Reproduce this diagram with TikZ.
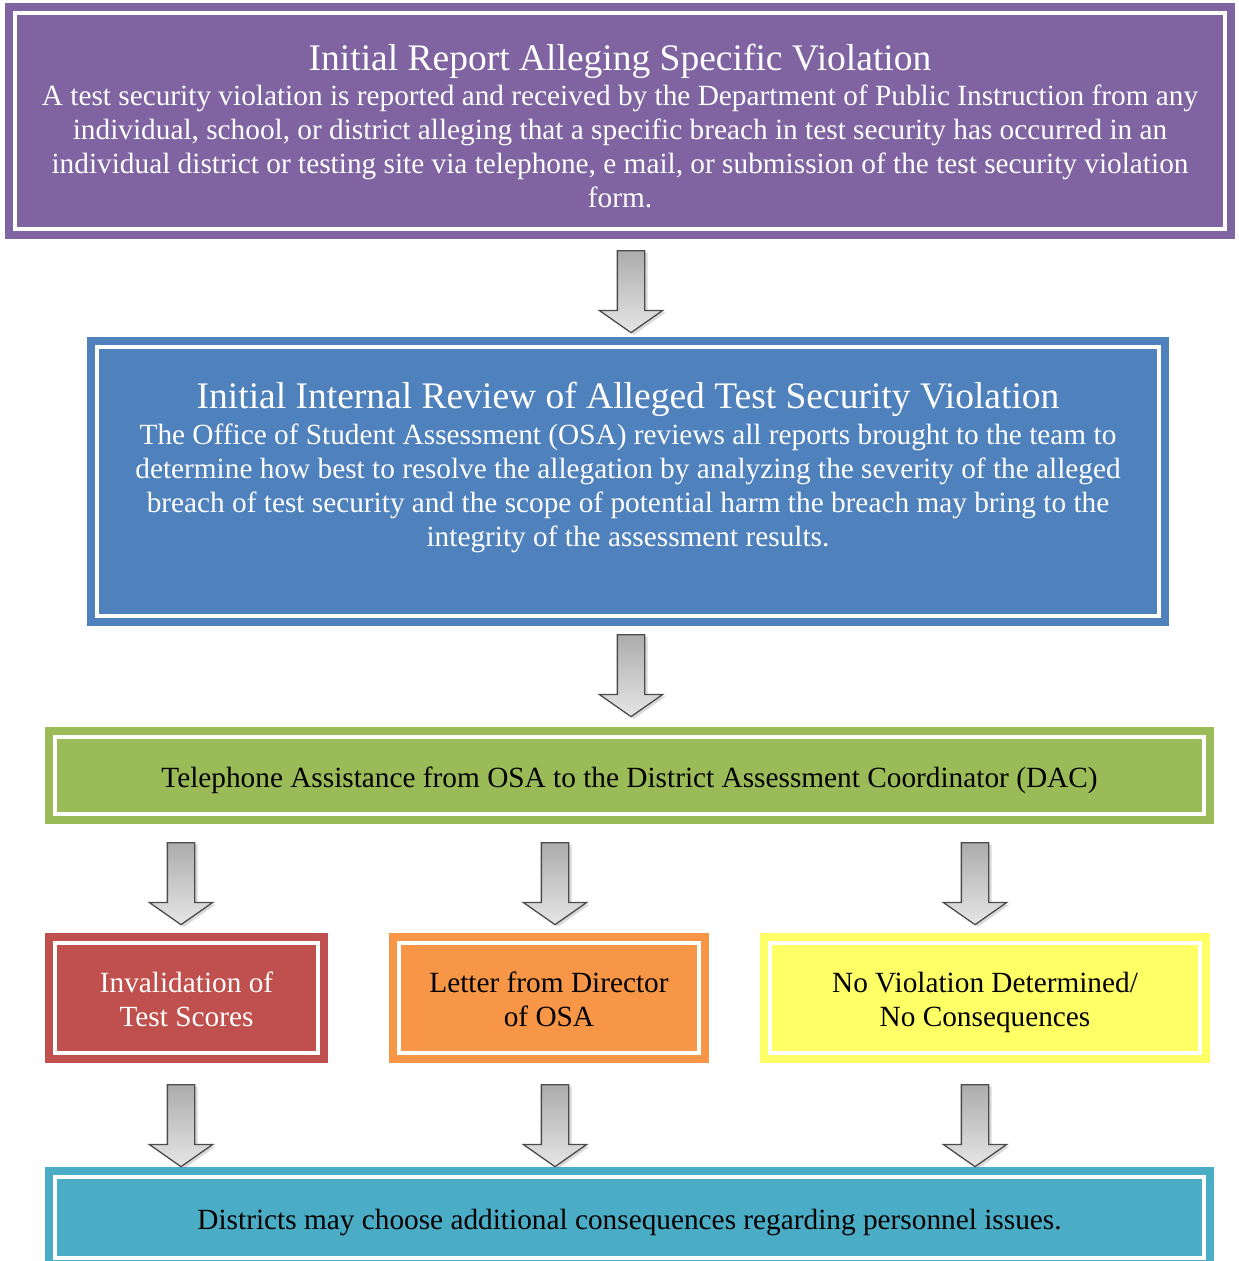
\documentclass[tikz,border=0pt]{standalone}
\usepackage{fontspec}
\setmainfont{Liberation Serif}
\usetikzlibrary{shapes.arrows, shadows}

\definecolor{violetbox}{HTML}{8064A2}
\definecolor{bluebox}{HTML}{4F81BD}
\definecolor{greenbox}{HTML}{9BBB59}
\definecolor{redbox}{HTML}{C0504D}
\definecolor{orangebox}{HTML}{F79646}
\definecolor{yellowbox}{HTML}{FFFF66}
\definecolor{tealbox}{HTML}{4BACC6}

\newcommand{\titlefont}{\fontsize{37.5}{40}\selectfont}
% invisible strut, pushes the text block a little down
\newcommand{\textdrop}[1]{\rule{0pt}{#1}}

\tikzset{
  stepbox/.style={rectangle, fill=#1, draw=white, line width=3.5pt,
    preaction={draw=#1, line width=20pt}, align=center, inner sep=0pt,
    outer sep=0pt, font=\fontsize{29.3}{34}\selectfont},
  downarrow/.style={single arrow, rotate=270, anchor=tail, inner xsep=0pt,
    inner ysep=13pt, minimum height=82pt, single arrow head extend=18pt,
    single arrow tip angle=110, draw=gray!60!black, line width=1.3pt,
    bottom color=gray!20, top color=gray!65,
    drop shadow={opacity=0.3, shadow xshift=3pt, shadow yshift=-2pt}}
}

\begin{document}
\begin{tikzpicture}[x=1pt, y=-1pt]
    \useasboundingbox (0,0) rectangle (1239,1261);

    % boxes
    \node[stepbox=violetbox, text=white, minimum width=1210pt, minimum height=216pt] (report) at (620,121)
        {{\titlefont\textdrop{36pt}Initial Report Alleging Specific Violation}\\[1pt]
         A test security violation is reported and received by the Department of Public Instruction from any\\
         individual, school, or district alleging that a specific breach in test security has occurred in an\\
         individual district or testing site via telephone, e mail, or submission of the test security violation\\
         form.};
    \node[stepbox=bluebox, text=white, minimum width=1062pt, minimum height=269pt] (review) at (628,481.5)
        {{\titlefont\textdrop{37pt}Initial Internal Review of Alleged Test Security Violation}\\[2pt]
         The Office of Student Assessment (OSA) reviews all reports brought to the team to\\
         determine how best to resolve the allegation by analyzing the severity of the alleged\\
         breach of test security and the scope of potential harm the breach may bring to the\\
         integrity of the assessment results.\\
         \strut};
    \node[stepbox=greenbox, minimum width=1149pt, minimum height=77pt] (phone) at (629.5,775.5)
        {\textdrop{31pt}Telephone Assistance from OSA to the District Assessment Coordinator (DAC)};
    \node[stepbox=redbox, text=white, minimum width=263pt, minimum height=110pt] (invalid) at (186.5,998)
        {\textdrop{24pt}Invalidation of\\Test Scores};
    \node[stepbox=orangebox, minimum width=300pt, minimum height=110pt] (letter) at (549,998)
        {\textdrop{24pt}Letter from Director\\of OSA};
    \node[stepbox=yellowbox, minimum width=430pt, minimum height=110pt] (noviol) at (985,998)
        {\textdrop{30pt}No Violation Determined/\\No Consequences};
    \node[stepbox=tealbox, minimum width=1149pt, minimum height=81pt] (district) at (629.5,1217.5)
        {\textdrop{31pt}Districts may choose additional consequences regarding personnel issues.};

    % arrows
    \node[downarrow] (ar1) at (631,250) {};
    \node[downarrow] (ar2) at (631,634) {};
    \node[downarrow] (ar3a) at (181,842) {};
    \node[downarrow] (ar3b) at (555,842) {};
    \node[downarrow] (ar3c) at (975,842) {};
    \node[downarrow] (ar4a) at (181,1084) {};
    \node[downarrow] (ar4b) at (555,1084) {};
    \node[downarrow] (ar4c) at (975,1084) {};
\end{tikzpicture}
\end{document}
